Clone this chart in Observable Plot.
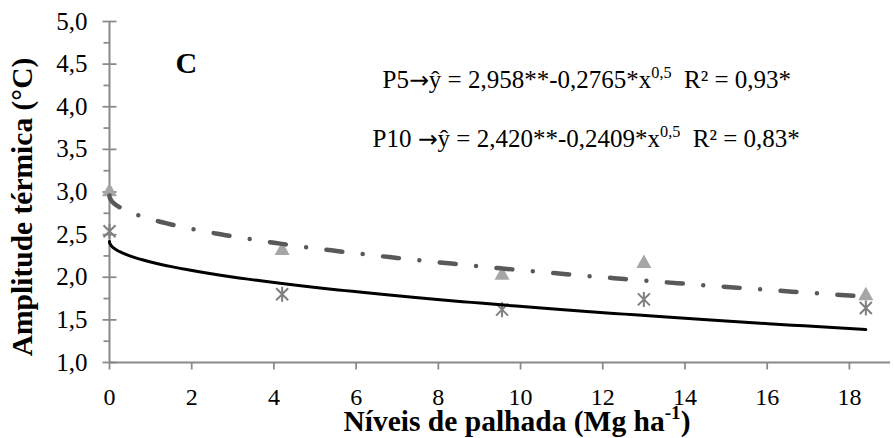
<!DOCTYPE html>
<html><head><meta charset="utf-8">
<script src="https://cdn.jsdelivr.net/npm/d3@7"></script>
<script src="https://cdn.jsdelivr.net/npm/@observablehq/plot@0.6"></script>
<style>
body{margin:0;background:#fff;}
#chart svg, #chart svg text{font-family:"Liberation Serif","Times New Roman",serif;}
</style></head><body><div id="chart"></div>
<script>
// Data
const niveis = [0, 4.2, 9.55, 13.0, 18.4];          // Níveis de palhada (Mg ha-1)
const p5 = [3.02, 2.33, 2.04, 2.18, 1.80];          // P5 observed (triangles)
const p10 = [2.54, 1.80, 1.62, 1.74, 1.64];         // P10 observed (asterisks)
const p5Coef = [2.958, -0.2765];                    // P5 fit: a + b*x^0.5
const p10Coef = [2.420, -0.2409];                   // P10 fit: a + b*x^0.5
const yTicks = [1, 1.5, 2, 2.5, 3, 3.5, 4, 4.5, 5];
const yMinor = [1.25, 1.75, 2.25, 2.75, 3.25, 3.75, 4.25, 4.75];
const xTicks = [0, 2, 4, 6, 8, 10, 12, 14, 16, 18];
const equations = [
  "P5\u2192\u0177 = 2,958**-0,2765*x^{0,5}\u00a0\u00a0R\u00b2 = 0,93*",
  "P10 \u2192\u0177 = 2,420**-0,2409*x^{0,5}\u00a0\u00a0R\u00b2 = 0,83*"
];
const xTitle = "Níveis de palhada (Mg ha^{-1})";
const yTitle = "Amplitude térmica (°C)";
const panel = ["C"];

const fitEnd = niveis[niveis.length - 1];
const samples = d3.range(0, 121).map(i => fitEnd * (i / 120) ** 2);
const curve = (c) => samples.map(x => ({x, y: c[0] + c[1] * Math.sqrt(x)}));
const pts = (ys) => niveis.map((x, i) => ({x, y: ys[i]}));

const triangle = {draw(ctx) { ctx.moveTo(0, -7.5); ctx.lineTo(7.5, 6); ctx.lineTo(-7.5, 6); ctx.closePath(); }};
const star = {draw(ctx) {
  ctx.moveTo(-6, -6); ctx.lineTo(6, 6);
  ctx.moveTo(-6, 6); ctx.lineTo(6, -6);
  ctx.moveTo(0, -7.5); ctx.lineTo(0, 7.5);
}};
const majorTickY = {draw(ctx) { ctx.moveTo(-7, 0); ctx.lineTo(7, 0); }};
const minorTickY = {draw(ctx) { ctx.moveTo(-6, 0); ctx.lineTo(0, 0); }};
const tickX = {draw(ctx) { ctx.moveTo(0, 0); ctx.lineTo(0, 7); }};

const axisGray = "#898989";
const serif = "'Liberation Serif','Times New Roman',serif";
const fmt = d => d.toFixed(1).replace(".", ",");

const chart = Plot.plot({
  width: 894, height: 438,
  marginLeft: 109, marginRight: 4, marginTop: 21, marginBottom: 76,
  x: {domain: [0, 19], axis: null},
  y: {domain: [1, 5], axis: null},
  style: {background: "white", color: "black", overflow: "visible", fontFamily: serif},
  marks: [
    Plot.ruleX([0], {stroke: axisGray, strokeWidth: 2}),
    Plot.ruleY([1], {stroke: axisGray, strokeWidth: 2}),
    Plot.dot(yMinor, {x: () => 0, y: d => d, symbol: minorTickY, stroke: axisGray, strokeWidth: 1.75, fill: "none"}),
    Plot.dot(yTicks, {x: () => 0, y: d => d, symbol: majorTickY, stroke: axisGray, strokeWidth: 1.75, fill: "none"}),
    Plot.dot(xTicks, {x: d => d, y: () => 1, symbol: tickX, stroke: axisGray, strokeWidth: 1.75, fill: "none"}),
    Plot.text(yTicks, {y: d => d, frameAnchor: "left", text: fmt, textAnchor: "end", dx: -22, fontSize: 25}),
    Plot.text(xTicks, {x: d => d, frameAnchor: "bottom", text: d => String(d), textAnchor: "middle", lineAnchor: "top", dy: 25, fontSize: 24}),
    Plot.dot(pts(p5), {x: "x", y: "y", symbol: triangle, fill: "#a6a6a6", stroke: "none"}),
    Plot.dot(pts(p10), {x: "x", y: "y", symbol: star, fill: "none", stroke: "#7f7f7f", strokeWidth: 2}),
    Plot.line(curve(p10Coef), {x: "x", y: "y", stroke: "black", strokeWidth: 3}),
    Plot.line(curve(p5Coef), {x: "x", y: "y", stroke: "#595959", strokeWidth: 4.5, strokeDasharray: "16,20.5,0,20.5", strokeLinecap: "round"}),
    Plot.text(panel, {frameAnchor: "top-left", text: d => d, textAnchor: "start", lineAnchor: "bottom", dx: 66, dy: 51, fontSize: 30, fontWeight: "bold"}),
    Plot.text([equations[0]], {frameAnchor: "top-left", text: d => d, textAnchor: "start", lineAnchor: "bottom", dx: 273, dy: 66, fontSize: 25}),
    Plot.text([equations[1]], {frameAnchor: "top-left", text: d => d, textAnchor: "start", lineAnchor: "bottom", dx: 263, dy: 125, fontSize: 25}),
    Plot.text([xTitle], {frameAnchor: "bottom", text: d => d, textAnchor: "middle", lineAnchor: "bottom", dx: 17, dy: 68, fontSize: 29.5, fontWeight: "bold"}),
    Plot.text([yTitle], {frameAnchor: "left", text: d => d, textAnchor: "middle", lineAnchor: "middle", rotate: -90, dx: -87, dy: 15, fontSize: 29.5, fontWeight: "bold"})
  ]
});

d3.select(chart).selectAll("text").attr("font-family", serif);

// Rich text: ^{...} -> superscript, arrow in a font with a full-width arrow glyph
d3.select(chart).selectAll("text").each(function() {
  const s = this.textContent;
  if (!s.includes("^{") && !s.includes("\u2192")) return;
  const g = this.closest("g");
  const size = parseFloat(this.getAttribute("font-size")) || parseFloat(g && g.getAttribute("font-size")) || 24;
  const el = d3.select(this); el.text(null);
  const re = /\^\{([^}]*)\}|\u2192/g; let last = 0, m, shifted = false;
  const plain = (str) => { const t = el.append("tspan").text(str); if (shifted) { t.attr("dy", 0.4 * size); shifted = false; } return t; };
  while ((m = re.exec(s))) {
    if (m.index > last) plain(s.slice(last, m.index));
    if (m[0] === "\u2192") {
      plain("\u2192").attr("font-family", "'DejaVu Sans',sans-serif").attr("font-size", size * 0.95);
    } else {
      el.append("tspan").attr("font-size", size * 0.65).attr("dy", -0.4 * size).text(m[1]);
      shifted = true;
    }
    last = re.lastIndex;
  }
  if (last < s.length) plain(s.slice(last));
});

document.getElementById("chart").appendChild(chart);
</script></body></html>
